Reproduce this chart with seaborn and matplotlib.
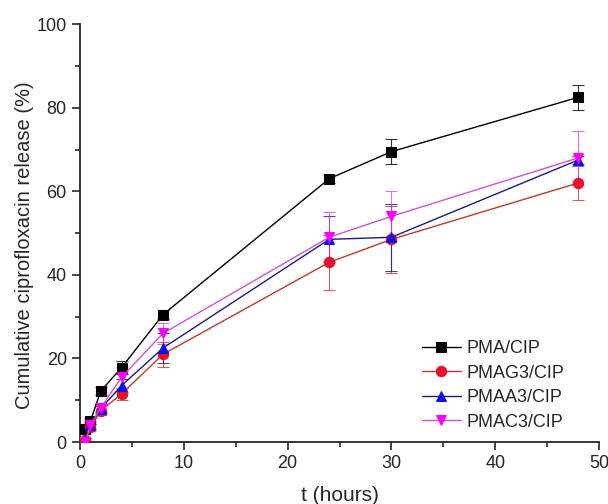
import numpy as np
import pandas as pd
import matplotlib
matplotlib.use("Agg")
import matplotlib.pyplot as plt
import seaborn as sns
from matplotlib.ticker import MultipleLocator

# 数据
t_hours = [0.5, 1, 2, 4, 8, 24, 30, 48]
series_names = ["PMA/CIP", "PMAG3/CIP", "PMAA3/CIP", "PMAC3/CIP"]
pma = [3.0, 5.0, 12.2, 17.8, 30.5, 63.0, 69.5, 82.5]
pmag3 = [0.5, 3.5, 7.5, 11.5, 21.0, 43.0, 48.5, 62.0]
pmaa3 = [0.5, 4.0, 8.0, 13.5, 22.5, 48.5, 49.0, 67.5]
pmac3 = [0.0, 4.0, 8.2, 15.5, 26.0, 49.0, 54.0, 68.0]
pma_err = [0.5, 0.8, 1.0, 1.5, 1.0, 1.0, 3.0, 3.0]
pmag3_err = [0.5, 0.8, 1.0, 1.5, 3.0, 6.5, 8.0, 4.0]
pmaa3_err = [0.5, 0.8, 1.0, 1.5, 3.5, 5.5, 8.0, 1.0]
pmac3_err = [0.5, 1.0, 1.0, 2.5, 2.5, 6.0, 6.0, 6.5]

values = [pma, pmag3, pmaa3, pmac3]
errors = [pma_err, pmag3_err, pmaa3_err, pmac3_err]
colors = ["#000000", "#e8102a", "#1010e8", "#ff00ff"]
line_colors = ["#000000", "#c0392b", "#1a1a8c", "#d050d0"]
markers = ["s", "o", "^", "v"]

sns.set_style("ticks")
plt.rcParams["font.family"] = ["Liberation Sans", "DejaVu Sans"]

fig = plt.figure(figsize=(6.08, 5.04), dpi=100)
ax = fig.add_axes([0.1316, 0.123, 0.8536, 0.829])

for name, y, err, c, lc, m in zip(series_names, values, errors, colors, line_colors, markers):
    df = pd.DataFrame({"t": t_hours, "release": y})
    ax.errorbar(t_hours, y, yerr=err, fmt="none", ecolor=lc, elinewidth=0.8,
                capsize=4, capthick=0.8, alpha=0.8, zorder=2)
    sns.lineplot(data=df, x="t", y="release", ax=ax, color=lc, linewidth=1.0,
                 marker=m, markersize=7.5, markerfacecolor=c, markeredgecolor=c,
                 label=name, zorder=3)

ax.set_xlim(0, 50)
ax.set_ylim(0, 100)
ax.xaxis.set_major_locator(MultipleLocator(10))
ax.xaxis.set_minor_locator(MultipleLocator(5))
ax.yaxis.set_major_locator(MultipleLocator(20))
ax.yaxis.set_minor_locator(MultipleLocator(10))
ax.tick_params(which="major", direction="out", length=6, width=1.2, labelsize=13)
ax.tick_params(which="minor", direction="out", length=3.5, width=1.2)
for s in ["left", "bottom"]:
    ax.spines[s].set_linewidth(1.3)
sns.despine(ax=ax)

ax.set_xlabel("t (hours)", fontsize=15, labelpad=10)
ax.set_ylabel("Cumulative ciprofloxacin release (%)", fontsize=14.5, y=0.47, labelpad=2)

ax.legend(loc="lower right", bbox_to_anchor=(0.965, -0.012), frameon=False,
          fontsize=13, handlelength=2.2, handletextpad=0.3, labelspacing=0.42)

fig.savefig("out.png", dpi=100)
